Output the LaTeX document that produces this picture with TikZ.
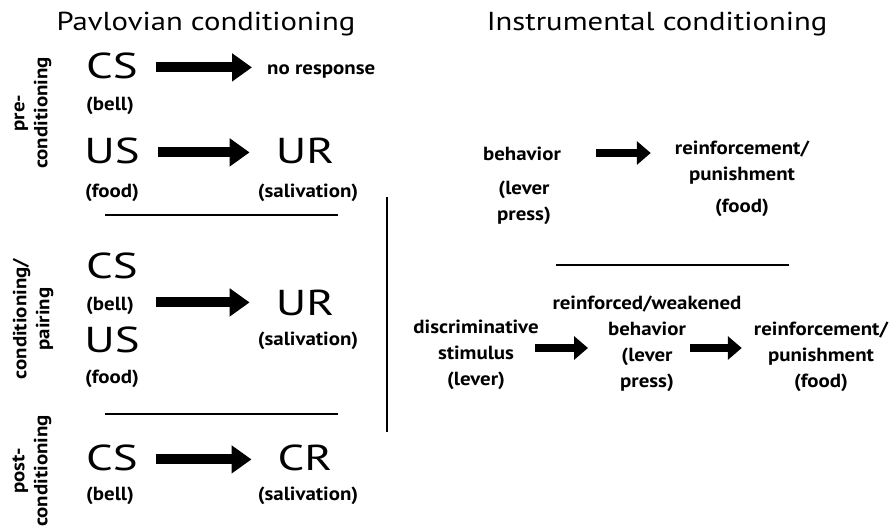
\documentclass[tikz,border=0pt]{standalone}
\usepackage{fontspec}
\setmainfont{PT Sans}
\newfontfamily\ttlfont{PT Sans}[FakeStretch=1.18]
\newfontfamily\bigfont{PT Sans}[FakeStretch=1.3]
\newfontfamily\smlfont{PT Sans}[FakeStretch=1.1]
\usetikzlibrary{arrows.meta}
\begin{document}
\begin{tikzpicture}[x=1pt,y=1pt,
  title/.style={font=\ttlfont\fontsize{26}{30}\selectfont, anchor=base, inner sep=0pt},
  big/.style={font=\bigfont\fontsize{36}{40}\selectfont, anchor=base, inner sep=0pt},
  small/.style={font=\smlfont\bfseries\fontsize{19}{26}\selectfont, anchor=base, inner sep=0pt, align=center},
  side/.style={font=\smlfont\bfseries\fontsize{19}{23}\selectfont, inner sep=0pt, align=center, rotate=90},
  bigarrow/.style={line width=10pt, -{Triangle[length=20pt,width=27pt]}},
  smallarrow/.style={line width=8pt, -{Triangle[length=14pt,width=23pt]}},
  sep/.style={line width=1.5pt}
]
\useasboundingbox (0,0) rectangle (896,-530);

% titles
\node[title] (tp) at (206,-30) {Pavlovian conditioning};
\node[title] (ti) at (657,-30) {Instrumental conditioning};

% side labels
\node[side] (lpre) at (33,-113) {pre-\\conditioning};
\node[side] (lcond) at (33,-319) {conditioning/\\pairing};
\node[side] (lpost) at (32,-471) {post-\\conditioning};

% pre-conditioning
\node[big] (cs1) at (112,-78) {CS};
\node[small] (bell1) at (110,-110) {(bell)};
\node[small, anchor=base west] (nr) at (267,-74) {no response};
\node[big] (us1) at (112,-163) {US};
\node[small] (food1) at (112,-197) {(food)};
\node[big] (ur1) at (305,-163) {UR};
\node[small] (sal1) at (308,-197) {(salivation)};
\coordinate (a1) at ([xshift=18pt,yshift=-2pt]cs1.east);
\draw[bigarrow, shorten >=15pt] (a1) -- (a1 -| nr.west);
\coordinate (a2) at ([xshift=18pt,yshift=-2pt]us1.east);
\draw[bigarrow, shorten >=26pt] (a2) -- (a2 -| ur1.west);

\draw[sep] (105,-215) coordinate (s1a) -- (338,-215) coordinate (s1b);

% conditioning / pairing
\node[big] (cs2) at (112,-278) {CS};
\node[small] (bell2) at (110,-310) {(bell)};
\node[big] (us2) at (112,-352) {US};
\node[small] (food2) at (112,-383) {(food)};
\node[big] (ur2) at (305,-315) {UR};
\node[small] (sal2) at (308,-345) {(salivation)};
\coordinate (a3) at ([xshift=18pt]cs2.east |- ur2.west);
\draw[bigarrow, shorten >=26pt] (a3) -- (a3 -| ur2.west);

\draw[sep] (105,-414) coordinate (s2a) -- (338,-414) coordinate (s2b);

% post-conditioning
\node[big] (cs3) at (112,-470) {CS};
\node[small] (bell3) at (110,-500) {(bell)};
\node[big] (cr3) at (305,-470) {CR};
\node[small] (sal3) at (308,-500) {(salivation)};
\coordinate (a4) at ([xshift=18pt,yshift=-2pt]cs3.east);
\draw[bigarrow, shorten >=26pt] (a4) -- (a4 -| cr3.west);

% divider
\draw[line width=2pt] (387,-197) coordinate (va) -- (387,-432) coordinate (vb);

% instrumental, top
\node[small] (beh1) at (522,-160) {behavior};
\node[small] (lev1) at (524,-220) {(lever\\press)};
\node[small] (rf1) at (742,-180) {reinforcement/\\punishment};
\node[small] (fd1) at (742,-212) {(food)};
\coordinate (a5) at (beh1.east |- 0,-153);
\draw[smallarrow, shorten <=35pt, shorten >=24pt] (a5) -- (a5 -| rf1.west);

\draw[sep] (556,-265) coordinate (s3a) -- (789,-265) coordinate (s3b);

% instrumental, bottom
\node[small] (disc) at (476,-385) {discriminative\\stimulus\\(lever)};
\node[small] (rw) at (647,-387) {reinforced/weakened\\behavior\\(lever\\press)};
\node[small] (rf2) at (821,-387) {reinforcement/\\punishment\\(food)};
\coordinate (a6) at (disc.east |- 0,-348);
\draw[smallarrow, shorten <=-4pt, shorten >=59pt] (a6) -- (a6 -| rw.center);
\coordinate (a7) at ([xshift=43pt]rw.center |- a6);
\draw[smallarrow, shorten >=12pt] (a7) -- (a7 -| rf2.west);
\end{tikzpicture}
\end{document}
